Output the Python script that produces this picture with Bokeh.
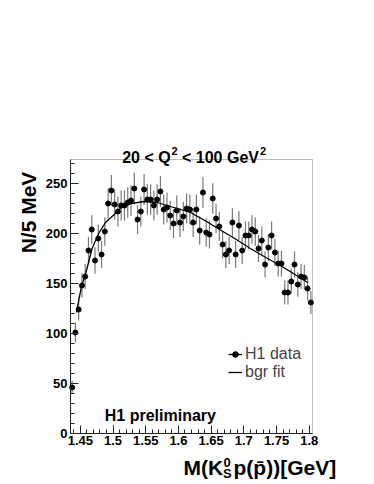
import math
from bokeh.plotting import figure
from bokeh.models import (Label, Legend, LegendItem, FixedTicker, ColumnDataSource, Range1d,
                          BoxAnnotation)
from bokeh.embed import file_html
from bokeh.resources import INLINE

# ---- data ----
mass = [1.4375, 1.4425, 1.4475, 1.4525, 1.4575, 1.4625, 1.4675, 1.4725, 1.4775, 1.4825,
        1.4875, 1.4925, 1.4975, 1.5025, 1.5075, 1.5125, 1.5175, 1.5225, 1.5275, 1.5325,
        1.5375, 1.5425, 1.5475, 1.5525, 1.5575, 1.5625, 1.5675, 1.5725, 1.5775, 1.5825,
        1.5875, 1.5925, 1.5975, 1.6025, 1.6075, 1.6125, 1.6175, 1.6225, 1.6275, 1.6325,
        1.6375, 1.6425, 1.6475, 1.6525, 1.6575, 1.6625, 1.6675, 1.6725, 1.6775, 1.6825,
        1.6875, 1.6925, 1.6975, 1.7025, 1.7075, 1.7125, 1.7175, 1.7225, 1.7275, 1.7325,
        1.7375, 1.7425, 1.7475, 1.7525, 1.7575, 1.7625, 1.7675, 1.7725, 1.7775, 1.7825,
        1.7875, 1.7925, 1.7975, 1.8025]
counts = [46, 101, 124, 148, 157, 183, 204, 173, 195, 179,
          202, 230, 243, 229, 222, 228, 228, 231, 233, 245,
          214, 222, 244, 234, 234, 228, 234, 242, 224, 226,
          218, 210, 223, 211, 217, 225, 224, 211, 224, 203,
          241, 201, 199, 235, 215, 207, 189, 179, 183, 211,
          179, 208, 183, 198, 198, 204, 202, 185, 193, 169,
          186, 198, 181, 170, 170, 141, 141, 152, 169, 149,
          157, 156, 145, 131]
errors = [6.8, 10.0, 11.1, 12.2, 12.5, 13.5, 14.3, 13.2, 14.0, 13.4,
          14.2, 15.2, 15.6, 15.1, 14.9, 15.1, 15.1, 15.2, 15.3, 15.7,
          14.6, 14.9, 15.6, 15.3, 15.3, 15.1, 15.3, 15.6, 15.0, 15.0,
          14.8, 14.5, 14.9, 14.5, 14.7, 15.0, 15.0, 14.5, 15.0, 14.2,
          15.5, 14.2, 14.1, 15.3, 14.7, 14.4, 13.7, 13.4, 13.5, 14.5,
          13.4, 14.4, 13.5, 14.1, 14.1, 14.3, 14.2, 13.6, 13.9, 13.0,
          13.6, 14.1, 13.5, 13.0, 13.0, 11.9, 11.9, 12.3, 13.0, 12.2,
          12.5, 12.5, 12.0, 11.4]

fit_x = [1.4440, 1.4475, 1.4515, 1.4595, 1.4680, 1.4780, 1.4885, 1.5035, 1.5125, 1.5280,
         1.5480, 1.5675, 1.5930, 1.6185, 1.6430, 1.6630, 1.6885, 1.7100, 1.7335, 1.7585,
         1.7830, 1.7975]
fit_y = [121, 133, 146, 163, 185, 200, 211, 220, 226, 230,
         232, 231, 226, 221, 212, 204, 194, 185, 176, 167,
         157, 151]

x_ticks = [1.45, 1.5, 1.55, 1.6, 1.65, 1.7, 1.75, 1.8]
x_tick_labels = ["1.45", "1.5", "1.55", "1.6", "1.65", "1.7", "1.75", "1.8"]
x_minor = [1.44, 1.46, 1.47, 1.48, 1.49, 1.51, 1.52, 1.53, 1.54, 1.56, 1.57, 1.58, 1.59,
           1.61, 1.62, 1.63, 1.64, 1.66, 1.67, 1.68, 1.69, 1.71, 1.72, 1.73, 1.74,
           1.76, 1.77, 1.78, 1.79]
y_ticks = [0, 50, 100, 150, 200, 250]
y_minor = [10, 20, 30, 40, 60, 70, 80, 90, 110, 120, 130, 140, 160, 170, 180, 190,
           210, 220, 230, 240, 260, 270]

x_lo, x_hi = 1.435, 1.805   # axis extent
y_lo, y_hi = 0, 274

FONT = "Liberation Sans"
W, H = 366, 482
# plot box on the canvas: left 70, right 312, top 159, bottom 433
PX_PER_X = 242 / (x_hi - x_lo)
xr = Range1d(x_lo - 70 / PX_PER_X, x_lo - 70 / PX_PER_X + W / PX_PER_X)
yr = Range1d(y_lo - (H - 433), y_lo + 433)

lo = [c - e for c, e in zip(counts, errors)]
hi = [c + e for c, e in zip(counts, errors)]
src = ColumnDataSource(dict(x=mass, y=counts, lo=lo, hi=hi))
fsrc = ColumnDataSource(dict(x=fit_x, y=fit_y))

p = figure(width=W, height=H, min_border=0, x_range=xr, y_range=yr,
           output_backend="svg", toolbar_location=None, title=None)
p.background_fill_color = "white"
p.border_fill_color = "white"
p.outline_line_color = None
p.xgrid.visible = False
p.ygrid.visible = False

p.add_layout(BoxAnnotation(left=x_lo, right=x_hi, bottom=y_lo, top=y_hi,
                           fill_alpha=0, line_color="#222222", line_width=1))

p.segment(x0="x", y0="lo", x1="x", y1="hi", source=src, line_color="#7a7a7a", line_width=1.2)
fit_r = p.line(x="x", y="y", source=fsrc, line_color="black", line_width=1.3)
dots_r = p.scatter(x="x", y="y", source=src, size=5, fill_color="black", line_color="black")

for ax in (p.xaxis[0], p.yaxis[0]):
    ax.axis_line_color = "#222222"
    ax.major_tick_line_color = "#222222"
    ax.minor_tick_line_color = "#222222"
    ax.major_tick_in = 8
    ax.major_tick_out = 0
    ax.minor_tick_in = 4
    ax.minor_tick_out = 0
    ax.major_label_text_font = FONT
    ax.major_label_text_font_style = "bold"
    ax.major_label_text_font_size = "13px"
    ax.major_label_text_color = "black"

p.xaxis[0].ticker = FixedTicker(ticks=x_ticks, minor_ticks=x_minor)
p.xaxis[0].major_label_overrides = {t: l for t, l in zip(x_ticks, x_tick_labels)}
p.xaxis[0].major_label_standoff = 2
p.xaxis[0].fixed_location = y_lo
p.xaxis[0].bounds = (x_lo, x_hi)
p.yaxis[0].ticker = FixedTicker(ticks=y_ticks, minor_ticks=y_minor)
p.yaxis[0].major_label_standoff = 3
p.yaxis[0].fixed_location = x_lo
p.yaxis[0].bounds = (y_lo, y_hi)


def lab(text, px, py, size, bold=True, **kw):
    # px, py: position on the canvas measured from the top-left corner (py = baseline)
    kw.setdefault("text_baseline", "alphabetic")
    p.add_layout(Label(x=px, y=H - py, x_units="screen", y_units="screen", text=text,
                       text_font=FONT, text_font_size=f"{size}px",
                       text_font_style="bold" if bold else "normal",
                       text_color="black", **kw))


# title: 20 < Q^2 < 100 GeV^2
lab("20 < Q", 121.7, 156.7, 16)
lab("2", 171.0, 150.7, 11)
lab("< 100 GeV", 181.5, 156.7, 16)
lab("2", 259.5, 150.7, 11)

# y axis title
lab("N/5 MeV", 28, 212, 21, angle=math.pi / 2, text_align="center", text_baseline="middle")

# x axis title: M(K^0_S p(p̄))[GeV]
lab("M(K", 183, 467.3, 21)
lab("0", 223.0, 461.5, 13)
lab("S", 222.5, 473.0, 13)
lab("p(p\u0304))[GeV]", 233.0, 467.3, 21)

# H1 preliminary
lab("H1 preliminary", 104.3, 414.7, 16)

legend = Legend(items=[LegendItem(label="H1 data", renderers=[fit_r, dots_r]),
                       LegendItem(label="bgr fit", renderers=[fit_r])],
                location=(228, H - 380.7), orientation="vertical",
                padding=0, margin=0, spacing=0, glyph_width=14, glyph_height=18,
                label_height=18, label_standoff=3,
                label_text_font=FONT, label_text_font_size="16px",
                label_text_baseline="middle",
                border_line_color=None, background_fill_color=None)
p.add_layout(legend)

open("out.html", "w").write(file_html(p, INLINE))
